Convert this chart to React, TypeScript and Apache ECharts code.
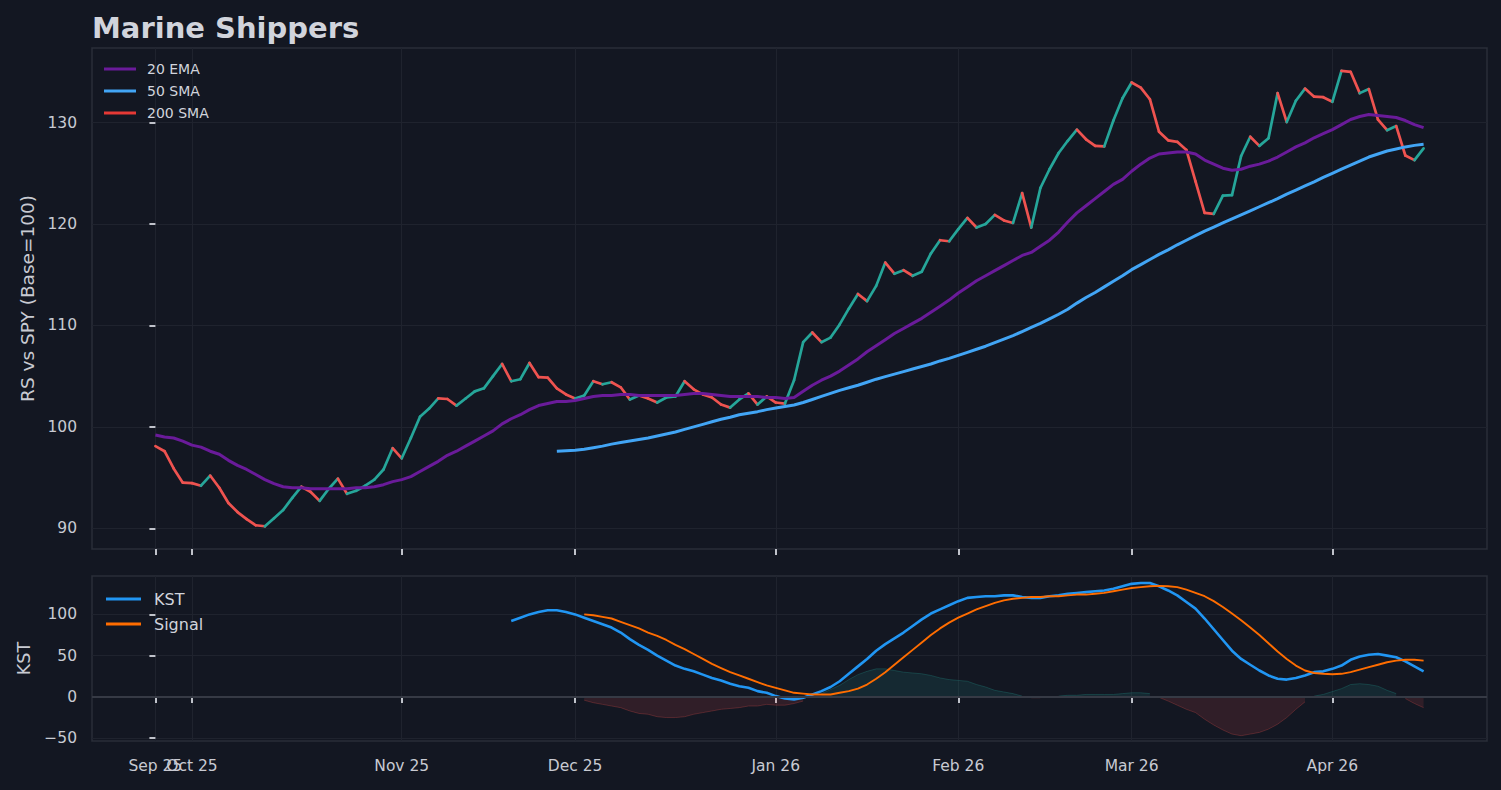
import React, { useEffect, useRef } from "react";
import * as echarts from "echarts";

// ---- Data (trading-day index on x) ----
const tickIndex = [0, 4, 27, 46, 68, 88, 107, 129];
const tickLabels = ["Sep 25", "Oct 25", "Nov 25", "Dec 25", "Jan 26", "Feb 26", "Mar 26", "Apr 26"];
const rsTicks = [90, 100, 110, 120, 130];
const kstTicks = [-50, 0, 50, 100];

const price = [
  98.1, 97.6, 95.9, 94.5, 94.45, 94.2, 95.2, 94.0, 92.5, 91.6,
  90.9, 90.3, 90.2, 91.0, 91.8, 93.0, 94.1, 93.6, 92.7, 93.9,
  94.9, 93.4, 93.7, 94.2, 94.8, 95.8, 97.9, 96.9, 98.9, 101.0,
  101.8, 102.8, 102.75, 102.1, 102.8, 103.5, 103.8, 105.0, 106.2, 104.5,
  104.7, 106.3, 104.9, 104.85, 103.8, 103.2, 102.8, 103.1, 104.5, 104.2,
  104.4, 103.9, 102.7, 103.1, 102.8, 102.4, 102.9, 103.0, 104.5, 103.7,
  103.2, 102.9, 102.2, 101.9, 102.7, 103.3, 102.2, 103.0, 102.4, 102.3,
  104.6, 108.35, 109.3, 108.35, 108.8, 110.1, 111.65, 113.1, 112.4, 113.9,
  116.2, 115.1, 115.45, 114.9, 115.3, 117.1, 118.4, 118.3, 119.5, 120.6,
  119.65, 120.0, 120.9, 120.35, 120.1, 123.05, 119.65, 123.55, 125.4, 127.0,
  128.2, 129.3, 128.35, 127.7, 127.65, 130.2, 132.4, 133.95, 133.45, 132.3,
  129.1, 128.25, 128.1, 127.3, 124.2, 121.1, 121.0, 122.8, 122.85, 126.7,
  128.6, 127.7, 128.45, 132.9, 130.05, 132.15, 133.35, 132.55, 132.5, 132.05,
  135.1, 135.0, 132.9, 133.3, 130.3, 129.25, 129.65, 126.75, 126.3, 127.45,
];

const ema20 = [
  99.2, 99.0, 98.9, 98.6, 98.2, 98.0, 97.6, 97.3, 96.7, 96.2,
  95.8, 95.3, 94.8, 94.4, 94.1, 94.0, 94.0, 93.9, 93.9, 93.9,
  93.9, 93.9, 94.0, 94.0, 94.1, 94.3, 94.6, 94.8, 95.1, 95.6,
  96.1, 96.6, 97.2, 97.6, 98.1, 98.6, 99.1, 99.6, 100.3, 100.8,
  101.2, 101.7, 102.1, 102.3, 102.5, 102.5, 102.6, 102.8, 103.0, 103.1,
  103.1, 103.2, 103.2, 103.1, 103.1, 103.1, 103.1, 103.1, 103.2, 103.3,
  103.3, 103.2, 103.1, 103.0, 103.0, 103.0, 103.0, 102.9, 102.9, 102.8,
  102.9, 103.5, 104.1, 104.6, 105.0, 105.5, 106.1, 106.7, 107.4, 108.0,
  108.6, 109.2, 109.7, 110.2, 110.7, 111.3, 111.9, 112.5, 113.2, 113.8,
  114.4, 114.9, 115.4, 115.9, 116.4, 116.9, 117.2, 117.8, 118.4, 119.2,
  120.2, 121.1, 121.8, 122.5, 123.2, 123.9, 124.4, 125.2, 125.9, 126.5,
  126.9, 127.0, 127.1, 127.1, 126.9, 126.3, 125.9, 125.5, 125.3, 125.4,
  125.7, 125.9, 126.2, 126.6, 127.1, 127.6, 128.0, 128.5, 128.9, 129.3,
  129.8, 130.3, 130.6, 130.8, 130.7, 130.6, 130.5, 130.2, 129.8, 129.5,
];

const sma50Start = 44;
const sma50 = [
  97.6, 97.65, 97.7, 97.8, 97.95, 98.1, 98.3, 98.45, 98.6, 98.75,
  98.9, 99.1, 99.3, 99.5, 99.75, 100.0, 100.25, 100.5, 100.75, 100.95,
  101.2, 101.35, 101.5, 101.7, 101.85, 102.0, 102.15, 102.4, 102.7, 103.0,
  103.3, 103.6, 103.85, 104.1, 104.4, 104.7, 104.95, 105.2, 105.45, 105.7,
  105.95, 106.2, 106.5, 106.75, 107.05, 107.35, 107.65, 107.95, 108.3, 108.65,
  109.0, 109.4, 109.8, 110.2, 110.65, 111.1, 111.6, 112.2, 112.75, 113.25,
  113.8, 114.35, 114.9, 115.5, 116.0, 116.5, 117.0, 117.45, 117.95, 118.4,
  118.85, 119.3, 119.7, 120.1, 120.5, 120.9, 121.3, 121.7, 122.1, 122.5,
  122.95, 123.35, 123.75, 124.15, 124.6, 125.0, 125.4, 125.8, 126.2, 126.6,
  126.9, 127.2, 127.4, 127.6, 127.75, 127.85,
];

const sma200: number[] = [];

const kstStart = 39;
const kst = [
  92, 96, 100, 103, 105, 105, 103, 100, 96, 92,
  88, 84, 78, 70, 63, 57, 50, 44, 38, 34,
  31, 27, 23, 20, 16, 13, 11, 7, 5, 1,
  -2, -3, -1, 3, 7, 12, 19, 28, 37, 46,
  56, 64, 71, 78, 86, 94, 101, 106, 111, 116,
  120, 121, 122, 122, 123, 123, 121, 120, 120, 122,
  123, 125, 126, 127, 128, 129, 131, 134, 137, 138,
  138, 134, 129, 123, 115, 107, 95, 82, 69, 56,
  46, 39, 32, 26, 22, 21, 23, 26, 30, 31,
  34, 38, 45, 49, 51, 52, 50, 48, 43, 37,
  31,
];

const signalStart = 47;
const signal = [
  100, 99, 97, 95, 91, 87, 83, 78, 74, 69,
  63, 58, 52, 46, 40, 35, 30, 26, 22, 18,
  14, 11, 8, 5, 4, 3, 3, 3, 5, 7,
  10, 15, 22, 30, 39, 48, 57, 66, 75, 83,
  90, 96, 101, 106, 110, 114, 117, 119, 120, 121,
  121, 122, 122, 123, 124, 124, 125, 126, 128, 130,
  132, 133, 134, 134.5, 134, 133, 130, 126, 122, 116,
  109, 101, 93, 84, 75, 65, 55, 46, 38, 32,
  29, 28, 27.5, 28, 30, 33, 36, 39, 42, 44,
  45, 45, 44,
];

// ---- Styles ----
const BG = "#131722";
const FONT = "DejaVu Sans";
const TEXT = "#d1d4dc";
const LABEL = "#c8cad2";
const GRIDLINE = "#1f232e";
const FRAME = "#2a2e39";
const TICK = "#c0c3cb";
const UP = "#26a69a";
const DOWN = "#ef5350";

const minusFmt = (v: number) => String(v).replace("-", "\u2212");
const dateFmt = (v: number) => tickLabels[tickIndex.indexOf(v)] ?? "";

export default function App() {
  const ref = useRef<HTMLDivElement>(null);

  useEffect(() => {
    if (!ref.current) return;
    const chart = echarts.init(ref.current, null, { renderer: "svg" });

    const segs = price.slice(1).map((v, k) => [k + 1, price[k], v]);
    const emaPts = ema20.map((v, i) => [i, v]);
    const smaPts = sma50.map((v, k) => [sma50Start + k, v]);
    const kstPts = kst.map((v, k) => [kstStart + k, v]);
    const sigPts = signal.map((v, k) => [signalStart + k, v]);
    const diff = signal.map((s, k) => {
      const i = signalStart + k;
      return [i, kst[i - kstStart] - s];
    });
    const posFill = diff.map(([i, d]) => [i, d > 0 ? d : null]);
    const negFill = diff.map(([i, d]) => [i, d < 0 ? d : null]);

    // the overlapping first two month labels are split over two axes so both show (as in the reference)
    const evenTicks = tickIndex.filter((_, k) => k !== 1);
    const oddTicks = [tickIndex[1]];

    const labelStyle = {
      hideOverlap: false,
      showMinLabel: true,
      showMaxLabel: true,
      formatter: dateFmt,
      color: LABEL,
      fontSize: 15.5,
      fontFamily: FONT,
      margin: 17,
    };

    const xMain = (gi: number, showLabel: boolean) => ({
      type: "value",
      gridIndex: gi,
      position: "bottom",
      min: -6.95,
      max: 145.95,
      axisLine: { show: false },
      axisTick: {
        show: true,
        customValues: tickIndex,
        length: 6,
        lineStyle: { color: TICK, width: 2 },
      },
      axisLabel: { show: showLabel, customValues: evenTicks, ...labelStyle },
      splitLine: { show: true, lineStyle: { color: GRIDLINE, width: 1 } },
    });

    const xExtra = {
      type: "value",
      gridIndex: 1,
      position: "bottom",
      offset: 0,
      min: -6.95,
      max: 145.95,
      axisLine: { show: false },
      axisTick: { show: false },
      axisLabel: { show: true, customValues: oddTicks, ...labelStyle },
      splitLine: { show: false },
    };

    const option: any = {
      animation: false,
      backgroundColor: BG,
      title: {
        text: "Marine Shippers",
        left: 92,
        top: 13,
        padding: 0,
        textStyle: { color: TEXT, fontSize: 29, fontWeight: "bold", fontFamily: FONT },
      },
      legend: [
        {
          data: ["20 EMA", "50 SMA", "200 SMA"],
          orient: "vertical",
          left: 104,
          top: 61,
          padding: 0,
          itemGap: 6,
          itemWidth: 32,
          itemHeight: 3,
          icon: "rect",
          selectedMode: false,
          textStyle: { color: TEXT, fontSize: 14, fontFamily: FONT, lineHeight: 16, padding: [0, 0, 0, 6] },
        },
        {
          data: ["KST", "Signal"],
          orient: "vertical",
          left: 106,
          top: 590,
          padding: 0,
          itemGap: 7,
          itemWidth: 35,
          itemHeight: 3,
          icon: "rect",
          selectedMode: false,
          textStyle: { color: TEXT, fontSize: 16, fontFamily: FONT, lineHeight: 18, padding: [0, 0, 0, 8] },
        },
      ],
      grid: [
        {
          left: 92, top: 48, right: 14, height: 501,
          show: true, backgroundColor: BG, borderColor: FRAME, borderWidth: 1.5,
          outerBoundsMode: "none",
        },
        {
          left: 92, top: 576, right: 14, height: 165,
          show: true, backgroundColor: BG, borderColor: FRAME, borderWidth: 1.5,
          outerBoundsMode: "none",
        },
      ],
      xAxis: [xMain(0, false), xMain(1, true), xExtra],
      yAxis: [
        {
          type: "value",
          gridIndex: 0,
          min: 87.96,
          max: 137.35,
          name: "RS vs SPY (Base=100)",
          nameLocation: "middle",
          nameGap: 55,
          nameTextStyle: { color: LABEL, fontSize: 18.5, fontFamily: FONT },
          axisLine: { show: false },
          axisTick: { show: true, customValues: rsTicks, length: 6, lineStyle: { color: TICK, width: 2 } },
          axisLabel: { customValues: rsTicks, color: LABEL, fontSize: 15.5, fontFamily: FONT, margin: 15 },
          splitLine: { show: true, lineStyle: { color: GRIDLINE, width: 1 } },
        },
        {
          type: "value",
          gridIndex: 1,
          min: -53.4,
          max: 146.5,
          name: "KST",
          nameLocation: "middle",
          nameGap: 58,
          nameTextStyle: { color: LABEL, fontSize: 17.5, fontFamily: FONT },
          axisLine: { show: false },
          axisTick: { show: true, customValues: kstTicks, length: 6, lineStyle: { color: TICK, width: 2 } },
          axisLabel: {
            customValues: kstTicks,
            formatter: minusFmt,
            color: LABEL,
            fontSize: 15.5,
            fontFamily: FONT,
            margin: 15,
          },
          splitLine: { show: true, lineStyle: { color: GRIDLINE, width: 1 } },
        },
      ],
      series: [
        {
          type: "custom",
          name: "RS",
          xAxisIndex: 0,
          yAxisIndex: 0,
          data: segs,
          encode: { x: 0, y: [1, 2] },
          clip: true,
          silent: true,
          renderItem: (params: any, api: any) => {
            const i = api.value(0);
            const a = api.coord([i - 1, api.value(1)]);
            const b = api.coord([i, api.value(2)]);
            const up = api.value(2) >= api.value(1);
            return {
              type: "line",
              shape: { x1: a[0], y1: a[1], x2: b[0], y2: b[1] },
              style: { stroke: up ? UP : DOWN, lineWidth: 2.7, lineCap: "round" },
            };
          },
        },
        {
          type: "line",
          name: "20 EMA",
          xAxisIndex: 0,
          yAxisIndex: 0,
          data: emaPts,
          symbol: "none",
          color: "#6a1b9a",
          lineStyle: { color: "#6a1b9a", width: 3 },
          silent: true,
        },
        {
          type: "line",
          name: "50 SMA",
          xAxisIndex: 0,
          yAxisIndex: 0,
          data: smaPts,
          symbol: "none",
          color: "#42a5f5",
          lineStyle: { color: "#42a5f5", width: 3 },
          silent: true,
        },
        {
          type: "line",
          name: "200 SMA",
          xAxisIndex: 0,
          yAxisIndex: 0,
          data: sma200,
          symbol: "none",
          color: "#e53935",
          lineStyle: { color: "#e53935", width: 3 },
          silent: true,
        },
        {
          type: "line",
          name: "posFill",
          xAxisIndex: 1,
          yAxisIndex: 1,
          data: posFill,
          symbol: "none",
          connectNulls: false,
          lineStyle: { color: "rgba(38,166,154,0.25)", width: 1 },
          areaStyle: { color: "rgba(38,166,154,0.19)", origin: 0 },
          silent: true,
        },
        {
          type: "line",
          name: "negFill",
          xAxisIndex: 1,
          yAxisIndex: 1,
          data: negFill,
          symbol: "none",
          connectNulls: false,
          lineStyle: { color: "rgba(239,83,80,0.25)", width: 1 },
          areaStyle: { color: "rgba(239,83,80,0.19)", origin: 0 },
          silent: true,
        },
        {
          type: "line",
          name: "KST",
          xAxisIndex: 1,
          yAxisIndex: 1,
          data: kstPts,
          symbol: "none",
          color: "#2196f3",
          lineStyle: { color: "#2196f3", width: 2.6 },
          silent: true,
          markLine: {
            silent: true,
            symbol: "none",
            label: { show: false },
            lineStyle: { color: "#363a45", width: 1.8, type: "solid" },
            data: [{ yAxis: 0 }],
          },
        },
        {
          type: "line",
          name: "Signal",
          xAxisIndex: 1,
          yAxisIndex: 1,
          data: sigPts,
          symbol: "none",
          color: "#ff6d00",
          lineStyle: { color: "#ff6d00", width: 1.9 },
          silent: true,
        },
      ],
    };

    chart.setOption(option);
    return () => chart.dispose();
  }, []);

  return (
    <div
      ref={ref}
      style={{ position: "fixed", left: 0, top: 0, width: 1501, height: 790, background: BG }}
    />
  );
}
